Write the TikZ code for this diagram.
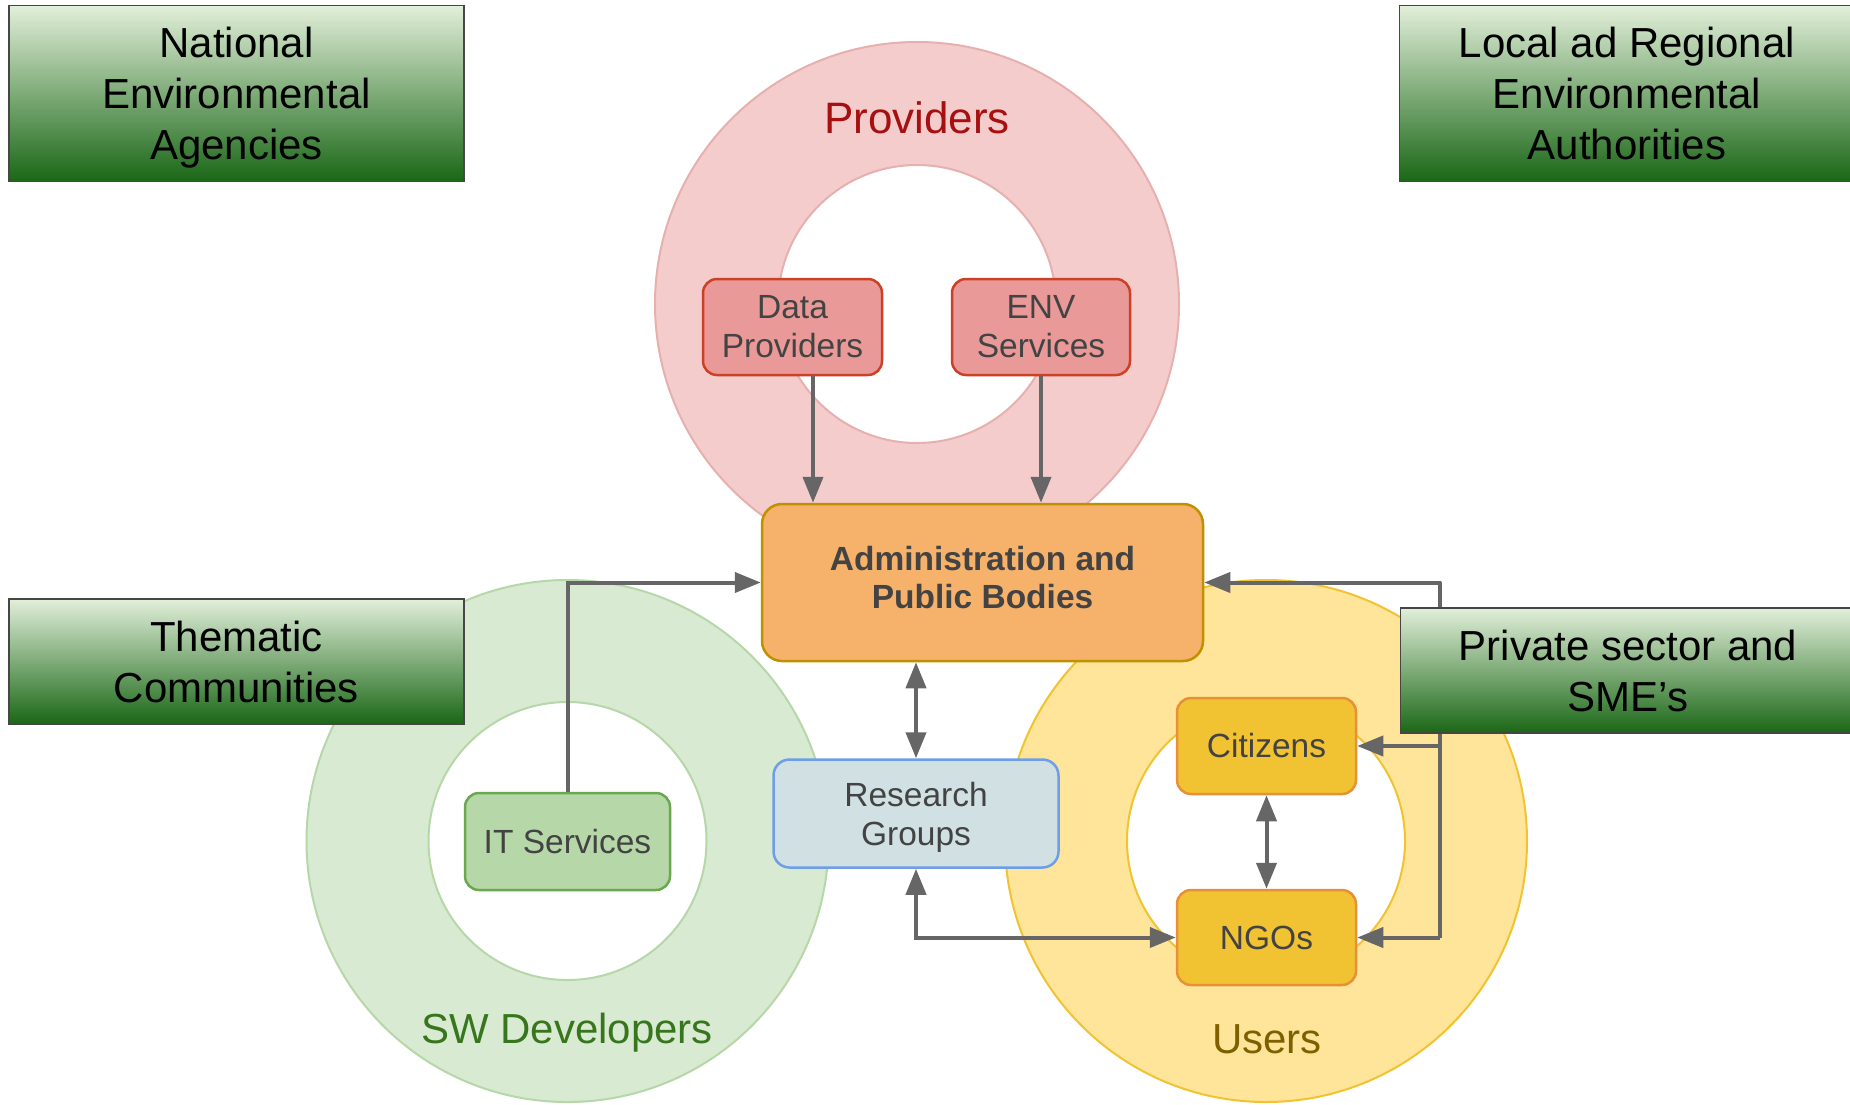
\documentclass[tikz,border=0pt]{standalone}
\usepackage{fontspec}
\setmainfont{Liberation Sans}
\usetikzlibrary{arrows.meta,calc}
\definecolor{provfill}{HTML}{F4CCCC}
\definecolor{provline}{HTML}{E6B0AE}
\definecolor{swfill}{HTML}{D9EAD3}
\definecolor{swline}{HTML}{B6D7A8}
\definecolor{usrfill}{HTML}{FFE599}
\definecolor{usrline}{HTML}{F1C232}
\definecolor{redbox}{HTML}{EA9999}
\definecolor{redline}{HTML}{CC4125}
\definecolor{orfill}{HTML}{F6B26B}
\definecolor{orline}{HTML}{BF9000}
\definecolor{blfill}{HTML}{D0E0E3}
\definecolor{blline}{HTML}{6D9EEB}
\definecolor{gnfill}{HTML}{B6D7A8}
\definecolor{gnline}{HTML}{6AA84F}
\definecolor{yefill}{HTML}{F1C232}
\definecolor{yeline}{HTML}{E69138}
\definecolor{txt}{HTML}{434343}
\definecolor{arrc}{HTML}{666666}
\definecolor{provtxt}{HTML}{A61010}
\definecolor{swtxt}{HTML}{38761D}
\definecolor{usrtxt}{HTML}{7F6000}
\definecolor{gtop}{HTML}{E2EFDA}
\definecolor{gmid}{HTML}{9DBB72}
\definecolor{gbot}{HTML}{1A6716}
\definecolor{gborder}{HTML}{464646}
\tikzset{
  x=1pt, y=-1pt,
  rbox/.style={rounded corners=14pt, line width=2.5pt, text=txt, align=center,
    font=\fontsize{33.5}{39}\selectfont, inner sep=0pt},
  rtext/.style={text=txt, align=center, font=\fontsize{33.5}{39}\selectfont, inner sep=0pt},
  gbox/.style={draw=gborder, line width=1.5pt, top color=gtop, middle color=gmid,
    bottom color=gbot, shading angle=0, align=center, text=black, inner sep=0pt,
    font=\fontsize{42}{51}\selectfont, minimum width=455pt},
  gtext/.style={align=center, text=black, inner sep=0pt, font=\fontsize{42}{51}\selectfont},
  arr/.style={draw=arrc, line width=4pt, -{Triangle[length=26pt,width=20pt]}},
  darr/.style={draw=arrc, line width=4pt, {Triangle[length=26pt,width=20pt]}-{Triangle[length=26pt,width=20pt]}},
  ringlbl/.style={anchor=base, font=\fontsize{42}{50}\selectfont},
}
\begin{document}
\begin{tikzpicture}
\useasboundingbox (0,0) rectangle (1850,1104);
\clip (0,0) rectangle (1850,1104);
% rings
\filldraw[fill=provfill, draw=provline, line width=2pt] (917,304) circle[radius=262];
\filldraw[fill=white, draw=provline, line width=2pt] (917,304) circle[radius=139];
\filldraw[fill=swfill, draw=swline, line width=2pt] (567.5,841) circle[radius=261];
\filldraw[fill=white, draw=swline, line width=2pt] (567.5,841) circle[radius=139];
\filldraw[fill=usrfill, draw=usrline, line width=2pt] (1266,841) circle[radius=261];
\filldraw[fill=white, draw=usrline, line width=2pt] (1266,841) circle[radius=139];
% ring labels
\node[ringlbl, text=provtxt, font=\fontsize{44}{50}\selectfont] (lprov) at (917,133) {Providers};
\node[ringlbl, text=swtxt] (lsw) at (567,1043) {SW Developers};
\node[ringlbl, text=usrtxt] (lusr) at (1267,1053) {Users};
% boxes
\node[rbox, fill=redbox, draw=redline, minimum width=179pt, minimum height=96pt] (dp) at (792.5,327) {Data\\Providers};
\node[rbox, fill=redbox, draw=redline, minimum width=178pt, minimum height=96pt] (env) at (1041,327) {ENV\\Services};
\node[rbox, rounded corners=20pt, fill=orfill, draw=orline, minimum width=441pt, minimum height=157pt] (admin) at (982.5,582.5) {};
\node[rtext, font=\fontsize{33.5}{38}\selectfont\bfseries] (admintxt) at ($(admin.center)+(0,-4.5)$) {Administration and\\Public Bodies};
\node[rbox, rounded corners=16pt, fill=blfill, draw=blline, minimum width=285pt, minimum height=108pt] (res) at (916,813.5) {};
\node[rtext] (restxt) at ($(res.center)+(0,3.5)$) {Research\\Groups};
\node[rbox, fill=gnfill, draw=gnline, minimum width=205pt, minimum height=97pt] (it) at (567.5,841.5) {IT Services};
\node[rbox, fill=yefill, draw=yeline, minimum width=179pt, minimum height=96pt] (cit) at (1266.5,746) {Citizens};
\node[rbox, fill=yefill, draw=yeline, minimum width=179pt, minimum height=95pt] (ngo) at (1266.5,937.5) {NGOs};
% connectors
\draw[arr] ([xshift=20.5pt]dp.south) -- ([xshift=20.5pt]dp.south |- admin.north);
\draw[arr] (env.south) -- (env.south |- admin.north);
\draw[darr] (res.north) -- (res.north |- admin.south);
\draw[darr] (res.south) -- (res.south |- ngo.west) -- (ngo.west);
\draw[arr] (it.north) -- (it.north |- admin.west) -- (admin.west);
\draw[darr] (cit.south) -- (ngo.north);
\coordinate (rtop) at (1440,582.5);
\coordinate (rbot) at (1440,937.5);
\coordinate (rcit) at (1440,746);
\draw[arr, line join=round] (rbot) -- (rtop) -- (admin.east);
\draw[arr] (rbot) -- (ngo.east);
\draw[arr] (rcit) -- (cit.east);
% green label boxes
\node[gbox, minimum height=176pt] (nat) at (236.5,93.5) {};
\node[gtext] (nattxt) at ($(nat.center)+(0,4.5)$) {National\\Environmental\\Agencies};
\node[gbox, minimum height=176pt] (loc) at (1627,93.5) {Local ad Regional\\Environmental\\Authorities};
\node[gbox, minimum height=125pt] (them) at (236.5,661.5) {Thematic\\Communities};
\node[gbox, minimum height=125pt] (priv) at (1628,670.5) {Private sector and\\SME’s};
\end{tikzpicture}
\end{document}
